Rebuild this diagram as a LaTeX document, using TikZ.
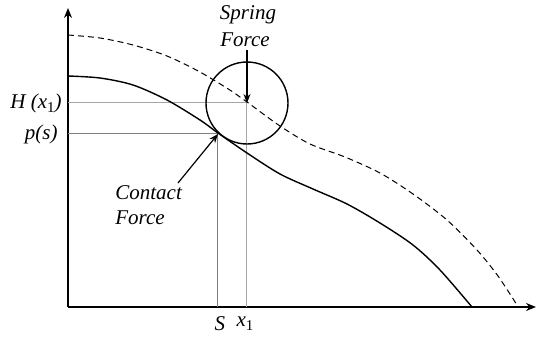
\documentclass[tikz,border=0pt]{standalone}
\usepackage{fontspec}
\setmainfont{Liberation Serif}[ItalicFont={Liberation Serif Italic}]
\newfontfamily\lblfont{Liberation Serif Italic}
\newfontfamily\uprfont{Liberation Serif}
\usetikzlibrary{arrows.meta}
\newcommand{\subone}{\raisebox{-0.45ex}{\uprfont\fontsize{7.5}{8}\selectfont 1}}
\begin{document}
\begin{tikzpicture}[x=0.5pt,y=-0.5pt,
  axis/.style={line width=0.7pt,-{Stealth[length=5pt,width=4pt]}},
  guide/.style={line width=0.5pt,draw=gray!70},
  guidedark/.style={line width=0.5pt,draw=gray},
  curve/.style={line width=0.7pt},
  ptr/.style={line width=0.6pt,-{Stealth[length=4.5pt,width=3.5pt]}},
  lbl/.style={font=\lblfont\fontsize{10.5}{12}\selectfont,inner sep=0pt}]
\useasboundingbox (0,0) rectangle (538,337);
% axes
\coordinate (O) at (68,307);
\coordinate (ytop) at (68,8);
\coordinate (xend) at (536,307);
\draw[axis] (O) -- (ytop);
\draw[axis] (O) -- (xend);
% key points
\coordinate (C) at (247,103);
\coordinate (P) at (218,134);
\coordinate (Hy) at (68,103);
\coordinate (Py) at (68,134);
\coordinate (Sx) at (218,307);
\coordinate (Xx) at (247,307);
% guide lines
\draw[guide] (Hy) -- (C) -- (Xx);
\draw[guidedark] (Py) -- (P) -- (Sx);
% dashed curve
\draw[line width=0.5pt,dash pattern=on 3pt off 2pt] plot[smooth,tension=0.5] coordinates
 {(68,35) (100,38) (133,45) (167,56) (200,72) (233,92) (247,102) (280,126) (310,144) (345,157) (380,173) (413,194) (447,220) (477,250) (498,276) (517,305)};
% solid curve
\draw[curve] plot[smooth,tension=0.5] coordinates
 {(68,76) (100,78) (133,85) (167,100) (200,120) (218,133) (247,153) (280,174) (313,189) (347,204) (380,223) (413,245) (440,270) (472,307)};
% circle
\draw[curve] (C) circle[radius=41];
% labels
\node[lbl,anchor=east] (hl) at (62,103) {H (x\subone)};
\node[lbl,anchor=east] (pl) at (58,134) {p(s)};
\node[lbl] (sl) at (220,324) {S};
\node[lbl] (xl) at (245,324) {x\subone};
\node[lbl] (spring) at (248,15) {Spring};
\node[lbl] (sforce) at (245,40) {Force};
\node[lbl,anchor=west] (contact) at (115,193) {Contact};
\node[lbl,anchor=west] (cforce) at (115,218) {Force};
% pointers
\coordinate (sa) at (247,50);
\coordinate (ca) at (178,183);
\draw[ptr] (sa) -- (C);
\draw[ptr] (ca) -- (P);
\end{tikzpicture}
\end{document}
